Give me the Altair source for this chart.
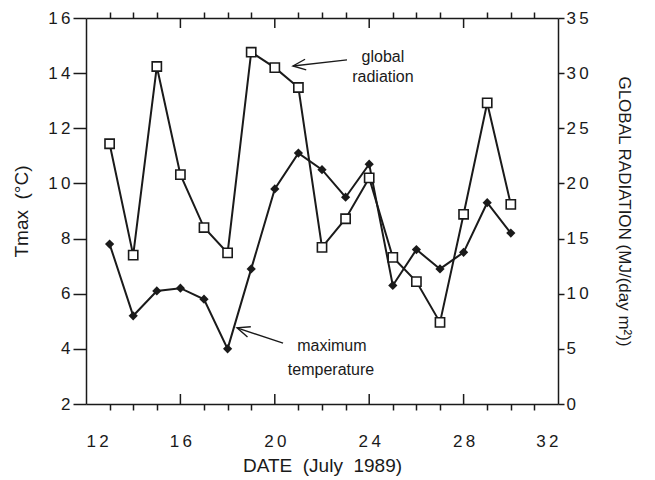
import altair as alt
import pandas as pd

# ---- data ----
days = list(range(13, 31))
tmax = [7.8, 5.2, 6.1, 6.2, 5.8, 4.0, 6.9, 9.8, 11.1, 10.5, 9.5, 10.7, 6.3, 7.6, 6.9, 7.5, 9.3, 8.2]
radiation = [23.6, 13.5, 30.6, 20.8, 16.0, 13.7, 31.9, 30.5, 28.7, 14.2, 16.8, 20.5, 13.3, 11.1, 7.4, 17.2, 27.3, 18.1]

x_ticks = list(range(12, 33))
major_days = [16, 20, 24, 28]
tmax_ticks = [2, 4, 6, 8, 10, 12, 14, 16]
rad_ticks = [0, 5, 10, 15, 20, 25, 30, 35]

label_texts = ["global", "radiation", "maximum", "temperature"]
label_day = [24.58, 24.58, 22.42, 22.38]
label_tmax = [14.59, 13.86, 4.10, 3.23]

arrow_names = ["global radiation", "maximum temperature"]
arrow_tip_day = [20.77, 18.40]
arrow_tip_tmax = [14.26, 4.76]
arrow_tail_day = [23.06, 20.35]
arrow_tail_tmax = [14.48, 4.21]

# ---- tables ----
df = pd.DataFrame({"day": days, "tmax": tmax, "rad": radiation})
labels_df = pd.DataFrame({"text": label_texts, "day": label_day, "tmax": label_tmax})
arrows_df = pd.DataFrame({"name": arrow_names, "tip_day": arrow_tip_day, "tip_tmax": arrow_tip_tmax,
                          "tail_day": arrow_tail_day, "tail_tmax": arrow_tail_tmax})
major_df = pd.DataFrame({"day": major_days})

INK = "#1a1a1a"
FONT = "Liberation Sans"
W, H = 472, 386
SP = "\u2009"

x_scale = alt.Scale(domain=[12, 32], nice=False, zero=False)
t_scale = alt.Scale(domain=[2, 16], nice=False, zero=False)
r_scale = alt.Scale(domain=[0, 35], nice=False, zero=False)

spaced = (f"length(datum.label) > 1 ? substring(datum.label, 0, 1) + '{SP}' + "
          f"substring(datum.label, 1) : datum.label")
x_label_expr = f"datum.value % 4 === 0 ? ({spaced}) : ''"
minor_only = {"condition": {"test": "datum.value % 4 === 0", "value": 0}, "value": 1}


def x_plain(f):
    return alt.X(f, scale=x_scale, axis=None)


def y_plain(f):
    return alt.Y(f, scale=t_scale, axis=None)


x_bottom = alt.X(
    "day:Q", scale=x_scale,
    title="DATE\u00a0\u00a0(July\u00a0\u00a01989)",
    axis=alt.Axis(orient="bottom", values=x_ticks, labelExpr=x_label_expr, tickSize=6,
                  tickOpacity=minor_only, labelPadding=23, titlePadding=7, grid=False,
                  labelFontSize=17, titleFontSize=19),
)
x_top = alt.X(
    "day:Q", scale=x_scale, title="",
    axis=alt.Axis(orient="top", values=x_ticks, labels=False, tickSize=6,
                  tickOpacity=minor_only, grid=False),
)
y_left = alt.Y(
    "tmax:Q", scale=t_scale, title="Tmax\u00a0\u00a0(°C)",
    axis=alt.Axis(orient="left", values=tmax_ticks, labelExpr=spaced, tickSize=13,
                  labelPadding=3, titlePadding=16, grid=False, labelFontSize=17, titleFontSize=19),
)
y_right = alt.Y(
    "rad:Q", scale=r_scale, title="GLOBAL RADIATION (MJ/(day m²))",
    axis=alt.Axis(orient="right", values=rad_ticks, labelExpr=spaced, tickSize=6,
                  labelPadding=2, titlePadding=26, grid=False, labelFontSize=17, titleFontSize=17),
)

base = alt.Chart(df)

t_line = base.mark_line(color=INK, strokeWidth=2).encode(x=x_bottom, y=y_left)
t_pts = base.mark_point(shape="diamond", filled=True, color=INK, size=85, opacity=1).encode(
    x=x_plain("day:Q"), y=y_plain("tmax:Q"))

txt = alt.Chart(labels_df).mark_text(font=FONT, fontSize=16, color=INK, align="center",
                                     baseline="middle").encode(
    x=x_plain("day:Q"), y=y_plain("tmax:Q"), text="text:N")

arrow_line = alt.Chart(arrows_df).mark_rule(color=INK, strokeWidth=1.4).encode(
    x=x_plain("tip_day:Q"), x2="tail_day:Q", y=y_plain("tip_tmax:Q"), y2="tail_tmax:Q")

chevron = "M 1 -0.42 L 0 0 L 1 0.42"
head1 = alt.Chart(arrows_df).transform_filter(alt.datum.name == "global radiation").mark_point(
    shape=chevron, filled=False, color=INK, strokeWidth=1.4, size=650, angle=353.7, opacity=1
).encode(x=x_plain("tip_day:Q"), y=y_plain("tip_tmax:Q"))
head2 = alt.Chart(arrows_df).transform_filter(alt.datum.name == "maximum temperature").mark_point(
    shape=chevron, filled=False, color=INK, strokeWidth=1.4, size=650, angle=18, opacity=1
).encode(x=x_plain("tip_day:Q"), y=y_plain("tip_tmax:Q"))

in_bottom = alt.Chart(major_df).mark_rule(color=INK, strokeWidth=1.5).encode(
    x=x_plain("day:Q"), y=alt.value(H), y2=alt.value(H - 10))
in_top = alt.Chart(major_df).mark_rule(color=INK, strokeWidth=1.5).encode(
    x=x_plain("day:Q"), y=alt.value(0), y2=alt.value(10))

r_line = base.mark_line(color=INK, strokeWidth=2).encode(x=x_top, y=y_right)
r_pts = base.mark_point(shape="square", filled=True, fill="white", stroke=INK, strokeWidth=1.6,
                        size=85, opacity=1).encode(
    x=x_plain("day:Q"), y=alt.Y("rad:Q", scale=r_scale, axis=None))

chart = alt.layer(
    t_line, r_line, t_pts, r_pts, txt, arrow_line, head1, head2, in_bottom, in_top
).resolve_scale(x="independent", y="independent").resolve_axis(
    x="independent", y="independent"
).properties(
    width=W, height=H,
    autosize=alt.AutoSizeParams(type="none"),
    padding={"left": 78, "top": 10, "right": 89, "bottom": 72},
    background="white",
).configure_view(stroke=None).configure_axis(
    domainColor=INK, domainWidth=1.5, tickColor=INK, tickWidth=1.5,
    labelFont=FONT, labelColor=INK, titleFont=FONT, titleColor=INK, titleFontWeight="normal",
)

chart.save("out.html", embed_options={"renderer": "svg", "actions": False})
